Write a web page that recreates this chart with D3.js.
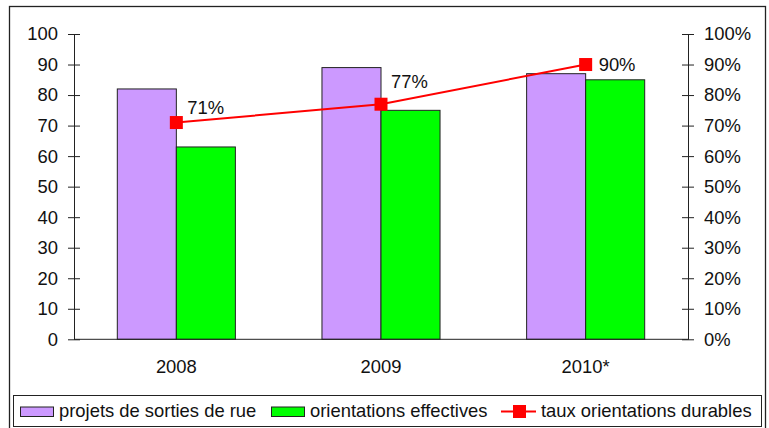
<!DOCTYPE html>
<html><head><meta charset="utf-8">
<script src="https://cdn.jsdelivr.net/npm/d3@7"></script>
<style>
html,body{margin:0;padding:0;background:#fff;}
svg{display:block;font-family:"Liberation Sans",Arial,sans-serif;}
</style></head>
<body><svg id="c" width="769" height="428"></svg>
<script>
const categories = ["2008", "2009", "2010*"];
const projets = [82, 89, 87];
const orientations = [63, 75, 85];
const taux = [71, 77, 90];
const leftTicks = [0,10,20,30,40,50,60,70,80,90,100];
const rightTicks = [0,10,20,30,40,50,60,70,80,90,100];
const seriesNames = ["projets de sorties de rue", "orientations effectives", "taux orientations durables"];

const svg = d3.select("#c");
const FS = 18.4;
const X0 = 74, X1 = 688, Y0 = 339.3, Y1 = 34;

// outer frame
svg.append("rect").attr("x",9.5).attr("y",6.5).attr("width",756).attr("height",430)
  .attr("fill","#fff").attr("stroke","#222").attr("stroke-width",1.3);

const x = d3.scaleBand().domain(categories).range([X0, X1]).paddingInner(0.4231).paddingOuter(0.2116);
const yL = d3.scaleLinear().domain([0,100]).range([Y0, Y1]);
const yR = d3.scaleLinear().domain([0,100]).range([Y0, Y1]);

// bars
const bw = x.bandwidth()/2;
const g = svg.append("g");
categories.forEach((c,i)=>{
  g.append("rect").attr("x", x(c)).attr("y", yL(projets[i])).attr("width", bw).attr("height", Y0 - yL(projets[i]))
    .attr("fill","#CC99FF").attr("stroke","#222").attr("stroke-width",1);
  g.append("rect").attr("x", x(c)+bw).attr("y", yL(orientations[i])).attr("width", bw).attr("height", Y0 - yL(orientations[i]))
    .attr("fill","#00FF00").attr("stroke","#222").attr("stroke-width",1);
});

// axes
const axL = d3.axisLeft(yL).tickValues(leftTicks).tickSizeInner(6).tickSizeOuter(0).tickPadding(10);
const gl = svg.append("g").attr("transform",`translate(${X0},0)`).call(axL);
gl.selectAll(".tick line").attr("x2",-6).attr("x1",6);
const axR = d3.axisRight(yR).tickValues(rightTicks).tickFormat(d=>d+"%").tickSizeInner(6).tickSizeOuter(0).tickPadding(10);
const gr = svg.append("g").attr("transform",`translate(${X1},0)`).call(axR);
gr.selectAll(".tick line").attr("x1",-6).attr("x2",6);
[gl,gr].forEach(a=>{
  a.select(".domain").attr("stroke","#222");
  a.selectAll(".tick line").attr("stroke","#222");
  a.selectAll("text").attr("font-size",FS).attr("fill","#111").attr("font-family","Liberation Sans, Arial, sans-serif");
});
// x axis line
svg.append("line").attr("x1",X0).attr("x2",X1).attr("y1",Y0).attr("y2",Y0).attr("stroke","#222");
categories.forEach(c=>{
  svg.append("text").attr("x", x(c)+x.bandwidth()/2).attr("y", 372.7).attr("text-anchor","middle")
    .attr("font-size",FS).attr("fill","#111").text(c);
});

// line
const cx = c => x(c)+x.bandwidth()/2;
const pts = categories.map((c,i)=>[cx(c), yR(taux[i])]);
svg.append("path").attr("d", d3.line()(pts)).attr("fill","none").attr("stroke","#FF0000").attr("stroke-width",2);
pts.forEach(p=>{
  svg.append("rect").attr("x",p[0]-6.5).attr("y",p[1]-6.5).attr("width",13).attr("height",13).attr("fill","#FF0000");
});
// data labels (placement mimics the original's automatic positioning)
const labelOffsets = [[11,-8.7],[10,-16],[13,6.2]];
pts.forEach((p,i)=>{
  svg.append("text").attr("x",p[0]+labelOffsets[i][0]).attr("y",p[1]+labelOffsets[i][1])
    .attr("font-size",FS).attr("fill","#111").text(taux[i]+"%");
});

// legend
svg.append("rect").attr("x",13.5).attr("y",395.5).attr("width",748).attr("height",31)
  .attr("fill","#fff").attr("stroke","#222").attr("stroke-width",1);
const lg = svg.append("g");
lg.append("rect").attr("x",20.5).attr("y",407).attr("width",33).attr("height",9.5).attr("fill","#CC99FF").attr("stroke","#222");
lg.append("text").attr("x",59).attr("y",417).attr("font-size",FS).attr("fill","#111").text(seriesNames[0]);
lg.append("rect").attr("x",271.5).attr("y",407).attr("width",33).attr("height",9.5).attr("fill","#00FF00").attr("stroke","#222");
lg.append("text").attr("x",310).attr("y",417).attr("font-size",FS).attr("fill","#111").text(seriesNames[1]);
lg.append("line").attr("x1",501).attr("x2",536).attr("y1",411.5).attr("y2",411.5).attr("stroke","#FF0000").attr("stroke-width",2);
lg.append("rect").attr("x",513).attr("y",405).attr("width",13).attr("height",13).attr("fill","#FF0000");
lg.append("text").attr("x",541).attr("y",417).attr("font-size",FS).attr("fill","#111").text(seriesNames[2]);
</script></body></html>
